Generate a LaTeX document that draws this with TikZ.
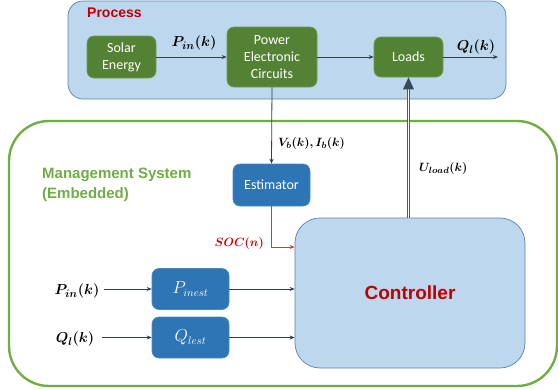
\documentclass[tikz,border=0pt]{standalone}
\usepackage{amsmath,bm}
\usepackage{fontspec}
\setmainfont{Carlito}
\newfontfamily\headfont{Liberation Sans}
\usetikzlibrary{arrows.meta,calc}

\definecolor{procfill}{HTML}{BDD7EE}
\definecolor{procline}{HTML}{5B82B0}
\definecolor{greenbox}{HTML}{548235}
\definecolor{greenedge}{HTML}{6F9A4F}
\definecolor{bluebox}{HTML}{2E75B6}
\definecolor{blueedge}{HTML}{4A86C0}
\definecolor{mgmtgreen}{HTML}{70AD47}
\definecolor{darkred}{HTML}{C00000}
\definecolor{wire}{HTML}{333F50}
\definecolor{redwire}{HTML}{D23A3A}
\definecolor{dblwire}{HTML}{595959}

\tikzset{
  greenblock/.style={draw=greenedge, line width=0.6pt, fill=greenbox, rounded corners=7pt,
    text=white, font=\fontsize{14}{17}\selectfont, align=center, inner sep=0pt},
  blueblock/.style={draw=blueedge, line width=0.6pt, fill=bluebox, rounded corners=7pt,
    text=white, font=\fontsize{16}{18}\selectfont, align=center, inner sep=0pt},
  sig/.style={draw=wire, line width=0.8pt, -{Stealth[length=5pt,width=4pt]}},
  redsig/.style={draw=redwire, line width=0.8pt, -{Stealth[length=5pt,width=4pt]}},
  mathlbl/.style={font=\fontsize{15}{17}\selectfont, inner sep=0pt},
  smallmath/.style={font=\fontsize{13}{15}\selectfont, inner sep=0pt},
}

\begin{document}
\begin{tikzpicture}[x=1pt,y=-1pt]
\useasboundingbox (0,0) rectangle (558,389);

% outer containers
\draw[draw=procline, line width=0.7pt, fill=procfill, rounded corners=15pt]
  (68,1) rectangle (506,99);
\node[anchor=west, font=\headfont\bfseries\fontsize{14}{16}\selectfont, text=darkred, inner sep=0pt]
  (proclbl) at (87,13) {Process};

\draw[draw=mgmtgreen, line width=2.4pt, rounded corners=40pt]
  (9,121) rectangle (557,386);
\node[anchor=north west, align=left, font=\headfont\bfseries\fontsize{15}{20}\selectfont,
  text=mgmtgreen, inner sep=0pt] (mgmtlbl) at (42,168) {Management System\\(Embedded)};

% process blocks
\node[greenblock, minimum width=69pt, minimum height=42pt] (solar) at (121.5,57) {Solar\\Energy};
\node[greenblock, minimum width=90pt, minimum height=60pt] (pec) at (272,57) {Power\\Electronic\\Circuits};
\node[greenblock, minimum width=69pt, minimum height=40pt] (loads) at (408.5,57) {Loads};
\coordinate (qout) at (498,57);

% management blocks
\node[blueblock, font=\fontsize{14}{17}\selectfont, minimum width=77pt, minimum height=42pt] (est) at (271.5,185) {Estimator};
\node[blueblock, minimum width=77pt, minimum height=41pt] (pinest) at (190.5,289) {$P_{inest}$};
\node[blueblock, minimum width=77pt, minimum height=41pt] (qlest) at (190.5,337.5) {$Q_{lest}$};
\node[draw=procline, line width=0.7pt, fill=procfill, rounded corners=25pt,
  minimum width=230pt, minimum height=150pt, inner sep=0pt,
  font=\headfont\bfseries\fontsize{19}{22}\selectfont, text=darkred] (ctrl) at (410,293) {Controller};

% process signal flow
\draw[sig] (solar.east) -- (pec.west);
\draw[sig] (pec.east) -- (loads.west);
\draw[sig] (loads.east) -- (qout);
\node[mathlbl] (pinlbl) at (194,43) {$\bm{P_{in}(k)}$};
\node[mathlbl] (qllbl) at (476,47) {$\bm{Q_{l}(k)}$};

% measurements to the estimator
\draw[sig] (pec.south) -- (est.north);
\node[smallmath, anchor=west] (vilbl) at (278,143) {$\bm{V_b(k), I_b(k)}$};

% state of charge to the controller
\draw[redsig] (est.south) |- (ctrl.west |- {(0,247)});
\node[smallmath, text=darkred, anchor=east] (soclbl) at (264,243) {$\bm{SOC(n)}$};

% external inputs
\node[mathlbl] (pinin) at (77,291) {$\bm{P_{in}(k)}$};
\node[mathlbl] (qlin) at (75,339) {$\bm{Q_{l}(k)}$};
\draw[sig] (pinin.east |- pinest.west) ++(4,0) -- (pinest.west);
\draw[sig] (qlin.east |- qlest.west) ++(8,0) -- (qlest.west);
\draw[sig] (pinest.east) -- (pinest.east -| ctrl.west);
\draw[sig] (qlest.east) -- (qlest.east -| ctrl.west);

% control command to the loads
\draw[draw=dblwire, line width=0.8pt, double=white, double distance=1.6pt]
  (ctrl.north -| loads.south) -- ($(loads.south)+(0,11)$);
\fill[fill=wire!85!procline] (loads.south) -- ++(-5.5,12) -- ++(11,0) -- cycle;
\node[smallmath, anchor=west] (ulbl) at (419,168) {$\bm{U_{load}(k)}$};
\end{tikzpicture}
\end{document}
